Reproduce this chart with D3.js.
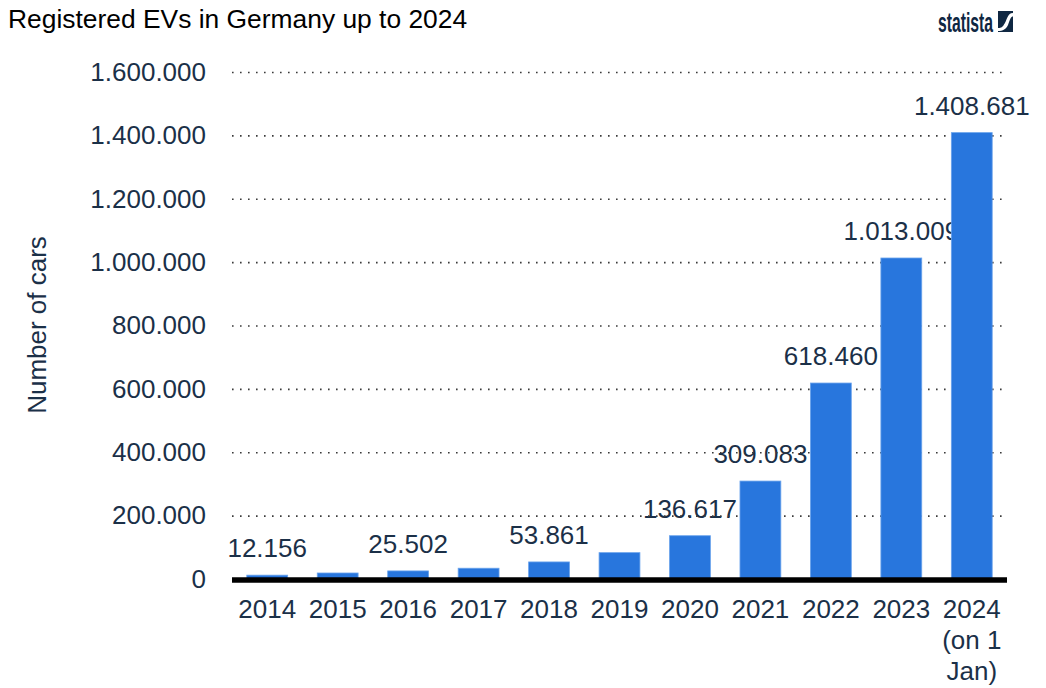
<!DOCTYPE html>
<html>
<head>
<meta charset="utf-8">
<script src="https://cdn.jsdelivr.net/npm/d3@7"></script>
<style>
  body { margin: 0; background: #fff; }
  svg { display: block; font-family: "Liberation Sans", Arial, sans-serif; }
</style>
</head>
<body>
<svg id="chart" width="1046" height="688"></svg>
<script>
// data
var years = ["2014", "2015", "2016", "2017", "2018", "2019", "2020", "2021", "2022", "2023", "2024 (on 1 Jan)"];
var cars = [12156, 18948, 25502, 34022, 53861, 83175, 136617, 309083, 618460, 1013009, 1408681];
var labelled = ["2014", "2016", "2018", "2020", "2021", "2022", "2023", "2024 (on 1 Jan)"]; // bars with a value on top
var yTicks = [0, 200000, 400000, 600000, 800000, 1000000, 1200000, 1400000, 1600000];

var navy = "#1b3048";
var barColor = "#2876dd";

var de = d3.formatLocale({decimal: ",", thousands: ".", grouping: [3], currency: ["", "€"]});
var fmt = de.format(",d");

var svg = d3.select("#chart");

var xScale = d3.scaleBand()
    .domain(years)
    .range([232, 1007])
    .paddingInner(0.42)
    .paddingOuter(0.21);

var yScale = d3.scaleLinear()
    .domain([0, 1600000])
    .range([579, 72]);

// title + logo
svg.append("text")
    .attr("x", 8)
    .attr("y", 28)
    .style("font-size", "26.4px")
    .style("fill", "#000")
    .text("Registered EVs in Germany up to 2024");

svg.append("text")
    .attr("x", 938)
    .attr("y", 32)
    .attr("textLength", 55)
    .attr("lengthAdjust", "spacingAndGlyphs")
    .style("font-size", "27px")
    .style("font-weight", "bold")
    .style("fill", "#0f2742")
    .text("statista");
var logo = svg.append("g").attr("transform", "translate(998,11)");
logo.append("rect").attr("width", 15).attr("height", 21).attr("fill", "#0f2742");
logo.append("path")
    .attr("d", "M15,2 C9,2 9,10 6,13.5 C4,17 2,17 0,17 L0,20 C5,20 8,18 10,14 C12,8 13,5.5 15,5.5 Z")
    .attr("fill", "#fff");

// value labels (under the grid, like the original)
svg.append("g").selectAll("text")
    .data(years.filter(function(d) { return labelled.indexOf(d) >= 0; }))
    .enter().append("text")
    .attr("x", function(d) { return xScale(d) + xScale.bandwidth() / 2; })
    .attr("y", function(d) { return yScale(cars[years.indexOf(d)]) - 18; })
    .attr("text-anchor", "middle")
    .style("font-size", "26px")
    .style("fill", navy)
    .text(function(d) { return fmt(cars[years.indexOf(d)]); });

// grid
var grid = svg.append("g")
    .attr("transform", "translate(232,0)")
    .call(d3.axisLeft(yScale).tickValues(yTicks.slice(1)).tickSize(-770).tickFormat(""));
grid.select(".domain").remove();
grid.selectAll("line")
    .attr("stroke", "#3a3a3a")
    .attr("stroke-width", 1.6)
    .attr("stroke-dasharray", "1.6 6.4");

// y axis labels
var yAxis = svg.append("g")
    .attr("transform", "translate(206,0)")
    .call(d3.axisLeft(yScale).tickValues(yTicks).tickSize(0).tickPadding(0).tickFormat(fmt));
yAxis.select(".domain").remove();
yAxis.selectAll("text")
    .style("font-size", "26px")
    .style("font-family", "Liberation Sans, Arial, sans-serif")
    .attr("fill", navy);

svg.append("text")
    .attr("transform", "translate(46,325) rotate(-90)")
    .attr("text-anchor", "middle")
    .style("font-size", "26px")
    .style("fill", navy)
    .text("Number of cars");

// bars
svg.append("g").selectAll("rect")
    .data(years)
    .enter().append("rect")
    .attr("x", function(d) { return xScale(d); })
    .attr("y", function(d, i) { return yScale(cars[i]); })
    .attr("width", xScale.bandwidth())
    .attr("height", function(d, i) { return yScale(0) - yScale(cars[i]); })
    .attr("fill", barColor)
    .attr("stroke", "#6aa3ec")
    .attr("stroke-width", 0.8);

// x axis
var xAxis = svg.append("g")
    .attr("transform", "translate(0,580)")
    .call(d3.axisBottom(xScale).tickSize(0).tickPadding(0));
xAxis.select(".domain")
    .attr("stroke", "#000")
    .attr("stroke-width", 5.5)
    .attr("d", "M232,0H1007");
xAxis.selectAll("text")
    .style("font-size", "26px")
    .style("font-family", "Liberation Sans, Arial, sans-serif")
    .attr("fill", navy)
    .attr("dy", null)
    .attr("y", 38)
    .call(wrap, 68);

function wrap(texts, width) {
    texts.each(function() {
        var text = d3.select(this);
        var words = text.text().split(" ");
        var lines = [];
        var line = [];
        text.text(null);
        var tspan = text.append("tspan").attr("x", 0).attr("y", 38);
        words.forEach(function(w) {
            line.push(w);
            tspan.text(line.join(" "));
            if (tspan.node().getComputedTextLength() > width && line.length > 1) {
                line.pop();
                lines.push(line.join(" "));
                line = [w];
                tspan.text(w);
            }
        });
        lines.push(line.join(" "));
        text.text(null);
        lines.forEach(function(l, i) {
            text.append("tspan").attr("x", 0).attr("y", 38 + i * 31).text(l);
        });
    });
}
</script>
</body>
</html>
